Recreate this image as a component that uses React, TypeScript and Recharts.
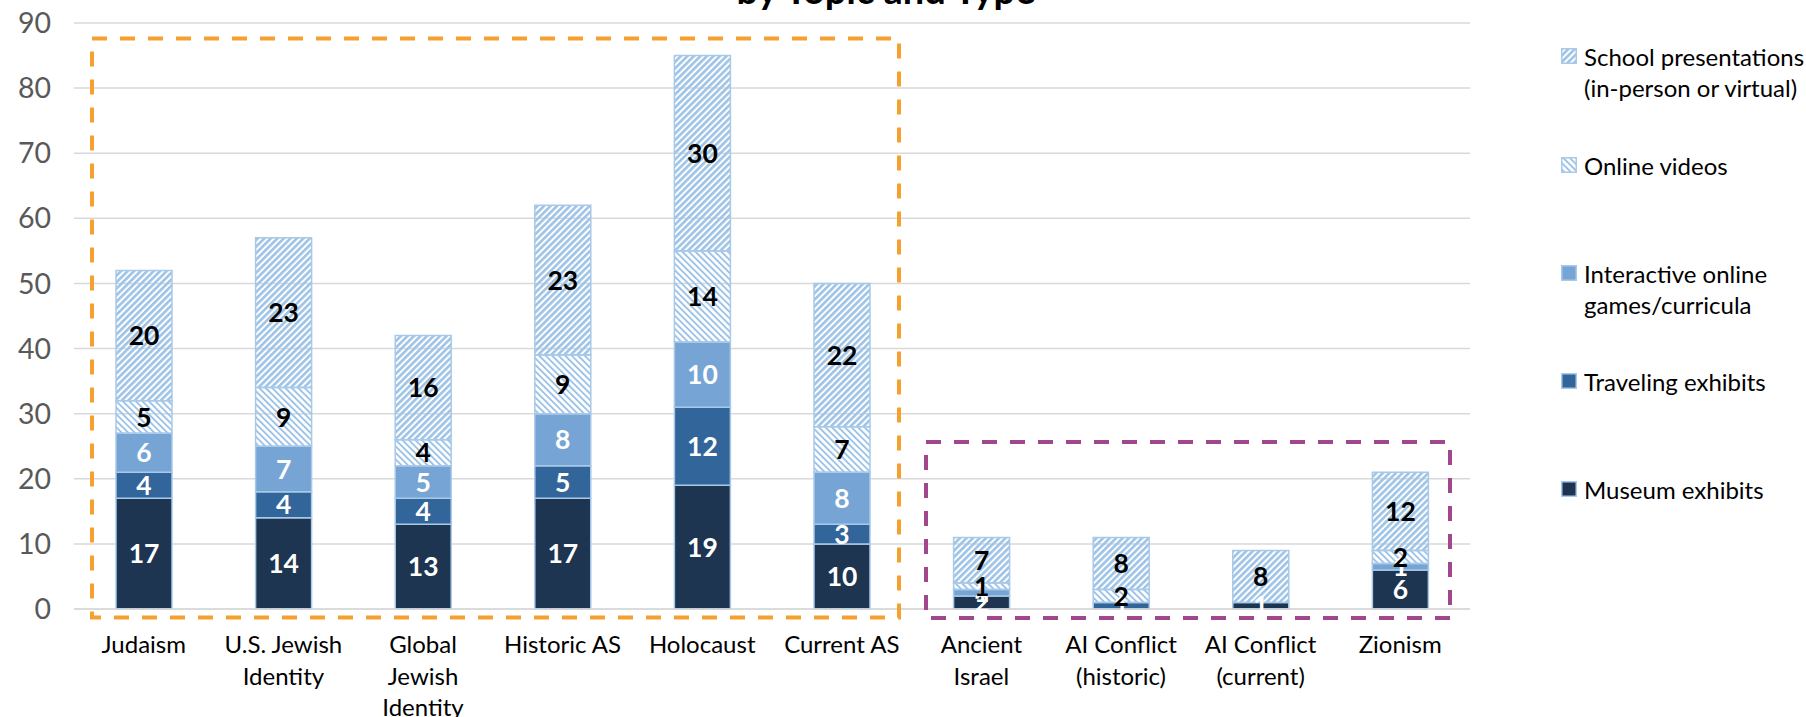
import React from 'react';
import { BarChart, Bar, XAxis, YAxis, CartesianGrid, LabelList } from 'recharts';

// ---------- data ----------
const categories = [
  'Judaism',
  'U.S. Jewish Identity',
  'Global Jewish Identity',
  'Historic AS',
  'Holocaust',
  'Current AS',
  'Ancient Israel',
  'AI Conflict (historic)',
  'AI Conflict (current)',
  'Zionism',
];
const categoryLines = [
  ['Judaism'],
  ['U.S. Jewish', 'Identity'],
  ['Global', 'Jewish', 'Identity'],
  ['Historic AS'],
  ['Holocaust'],
  ['Current AS'],
  ['Ancient', 'Israel'],
  ['AI Conflict', '(historic)'],
  ['AI Conflict', '(current)'],
  ['Zionism'],
];
const museumExhibits = [17, 14, 13, 17, 19, 10, 2, 0, 1, 6];
const travelingExhibits = [4, 4, 4, 5, 12, 3, 0, 1, 0, 0];
const interactiveOnline = [6, 7, 5, 8, 10, 8, 1, 0, 0, 1];
const onlineVideos = [5, 9, 4, 9, 14, 7, 1, 2, 0, 2];
const schoolPresentations = [20, 23, 16, 23, 30, 22, 7, 8, 8, 12];
const yTicks = [0, 10, 20, 30, 40, 50, 60, 70, 80, 90];

const data = categories.map((c, i) => ({
  category: c,
  museum: museumExhibits[i],
  traveling: travelingExhibits[i],
  interactive: interactiveOnline[i],
  online: onlineVideos[i],
  school: schoolPresentations[i],
}));

// ---------- styles ----------
const FONT = 'Lato, "Noto Sans", sans-serif';
const BORDER = '#A9C9E9';
const STRIPE = '#9DC3E6';

const series = [
  { key: 'museum', name: 'Museum exhibits', fill: '#1D3550', label: '#FFFFFF' },
  { key: 'traveling', name: 'Traveling exhibits', fill: '#32659A', label: '#FFFFFF' },
  { key: 'interactive', name: 'Interactive online games/curricula', fill: '#76A5D5', label: '#FFFFFF' },
  { key: 'online', name: 'Online videos', fill: 'url(#patOnline)', label: '#000000' },
  { key: 'school', name: 'School presentations (in-person or virtual)', fill: 'url(#patSchool)', label: '#000000' },
];

const legendItems = [
  { lines: ['School presentations', '(in-person or virtual)'], fill: 'url(#lgSchool)', top: 56 },
  { lines: ['Online videos'], fill: 'url(#lgOnline)', top: 165 },
  { lines: ['Interactive online', 'games/curricula'], fill: '#76A5D5', top: 273 },
  { lines: ['Traveling exhibits'], fill: '#32659A', top: 381 },
  { lines: ['Museum exhibits'], fill: '#1D3550', top: 489 },
];

const PatternDefs = ({ prefix }: { prefix: string }) => (
  <defs>
    <pattern id={prefix + 'School'} width="4.6" height="4.6" patternUnits="userSpaceOnUse" patternTransform="rotate(45)">
      <rect width="4.6" height="4.6" fill="#FFFFFF" fillOpacity="0" />
      <rect width="2.6" height="4.6" fill={STRIPE} />
    </pattern>
    <pattern id={prefix + 'Online'} width="4.6" height="4.6" patternUnits="userSpaceOnUse" patternTransform="rotate(-45)">
      <rect width="4.6" height="4.6" fill="#FFFFFF" fillOpacity="0" />
      <rect width="1.9" height="4.6" fill={STRIPE} />
    </pattern>
  </defs>
);

const makeLabel = (color: string) => (props: any) => {
  const vb = props.viewBox || props;
  const { x, y, width, height } = vb;
  const value = props.value;
  if (!value) return null;
  return (
    <text
      x={x + width / 2}
      y={y + height / 2}
      dy={9.6}
      textAnchor="middle"
      fill={color}
      fontFamily={FONT}
      fontWeight={700}
      fontSize={26.5}
    >
      {value}
    </text>
  );
};

const CategoryTick = (props: any) => {
  const { x, y, payload } = props;
  const idx = categories.indexOf(payload.value);
  const lines = categoryLines[idx] || [payload.value];
  return (
    <text x={x} y={y} textAnchor="middle" fontFamily={FONT} fontSize={24} fill="#000000">
      {lines.map((l, i) => (
        <tspan key={i} x={x} dy={i === 0 ? 44 : 31.6}>
          {l}
        </tspan>
      ))}
    </text>
  );
};

export default function App() {
  return (
    <div
      style={{
        position: 'absolute',
        left: 0,
        top: 0,
        width: 1806,
        height: 717,
        background: '#FFFFFF',
        overflow: 'hidden',
        fontFamily: FONT,
      }}
    >
      <BarChart
        width={1806}
        height={717}
        data={data}
        margin={{ top: 23, right: 336, bottom: 0, left: 0 }}
        barSize={56}
      >
        <PatternDefs prefix="pat" />
        <CartesianGrid vertical={false} stroke="#D9D9D9" strokeWidth={1.5} />
        <XAxis
          dataKey="category"
          height={108}
          interval={0}
          tickLine={false}
          tickSize={0}
          tickMargin={0}
          axisLine={{ stroke: '#D9D9D9', strokeWidth: 1.5 }}
          tick={<CategoryTick />}
        />
        <YAxis
          width={74}
          domain={[0, 90]}
          ticks={yTicks}
          interval={0}
          axisLine={false}
          tickLine={false}
          tickSize={0}
          tickMargin={23}
          tick={{ fill: '#595959', fontSize: 28.5, fontFamily: FONT }}
        />
        {series.map((s) => (
          <Bar
            key={s.key}
            dataKey={s.key}
            name={s.name}
            stackId="a"
            fill={s.fill}
            stroke={BORDER}
            strokeWidth={1.5}
            isAnimationActive={false}
          >
            <LabelList dataKey={s.key} position="center" content={makeLabel(s.label)} />
          </Bar>
        ))}
      </BarChart>

      {/* annotation overlay: title and group boxes */}
      <svg
        width={1806}
        height={717}
        style={{ position: 'absolute', left: 0, top: 0, pointerEvents: 'none' }}
      >
        <text x={886} y={3.5} textAnchor="middle" fontFamily={FONT} fontWeight={700} fontSize={38} fill="#000000">
          by Topic and Type
        </text>
        <rect x={92} y={38.5} width={807} height={579} fill="none" stroke="#F6A12F" strokeWidth={4} strokeDasharray="15 13" />
        <rect x={926} y={442} width={524} height={176} fill="none" stroke="#A2478C" strokeWidth={4} strokeDasharray="15 13" />
      </svg>

      {/* legend */}
      <svg width={0} height={0} style={{ position: 'absolute' }}>
        <PatternDefs prefix="lg" />
      </svg>
      {legendItems.map((it, i) => (
        <div
          key={i}
          style={{
            position: 'absolute',
            left: 1561,
            top: it.top - 15.5,
            display: 'flex',
            alignItems: 'flex-start',
          }}
        >
          <svg width={16} height={16} style={{ marginTop: 7.5, flex: 'none' }}>
            <rect x={0.75} y={0.75} width={14.5} height={14.5} fill={it.fill} stroke={BORDER} strokeWidth={1.5} />
          </svg>
          <div
            style={{
              marginLeft: 7,
              fontFamily: FONT,
              fontSize: 24,
              lineHeight: '31px',
              color: '#000000',
              whiteSpace: 'nowrap',
            }}
          >
            {it.lines.map((l, j) => (
              <div key={j}>{l}</div>
            ))}
          </div>
        </div>
      ))}
    </div>
  );
}
